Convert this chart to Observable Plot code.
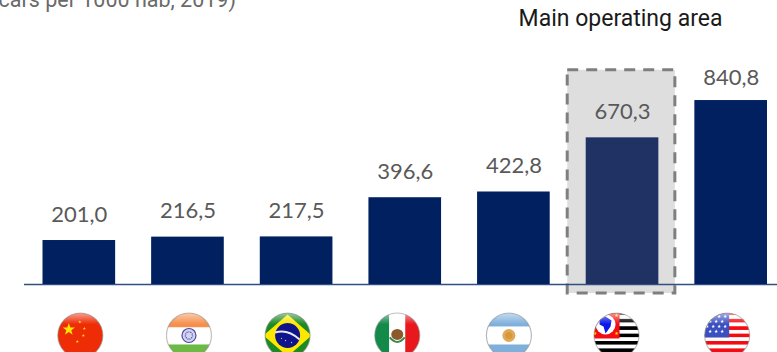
<!DOCTYPE html>
<html><head><meta charset="utf-8">
<script src="https://cdn.jsdelivr.net/npm/d3@7"></script>
<script src="https://cdn.jsdelivr.net/npm/@observablehq/plot@0.6"></script>
<style>html,body{margin:0;padding:0;background:#fff;overflow:hidden}svg{display:block}</style>
</head><body><div id="chart"></div>
<script>
const places = ["China","India","Brazil","Mexico","Argentina","São Paulo","USA"];
const carsPer1000 = [201.0,216.5,217.5,396.6,422.8,670.3,840.8];
const flagKeys = ["cn","in","br","mx","ar","sp","us"];
const subtitle = "cars per 1000 hab, 2019)";
const highlightLabel = "Main operating area";
const highlightPlace = "São Paulo";
const rows = places.map((place,i)=>({place,value:carsPer1000[i],flag:flagKeys[i]}));
const fmt = v => v.toFixed(1).replace(".",",");

const star=(x,y,r,c)=>{let p=[];for(let i=0;i<10;i++){const a=-Math.PI/2+i*Math.PI/5,q=i%2?r*.4:r;p.push((x+q*Math.cos(a)).toFixed(2)+","+(y+q*Math.sin(a)).toFixed(2));}return `<polygon points="${p.join(" ")}" fill="${c}"/>`;};
const stripes=(n,a,b)=>{let s="";for(let i=0;i<n;i++)s+=`<rect x="0" y="${i*48/n}" width="48" height="${48/n+.1}" fill="${i%2?b:a}"/>`;return s;};
const flagArt={
 cn:`<rect width="48" height="48" fill="#ee2c06"/>`+star(12.5,18,6.5,"#ffe600")+star(23.5,10.5,1.7,"#ffd800")+star(28,17,1.7,"#ffd800")+star(27,24,1.7,"#ffd800")+star(21,30,1.7,"#ffd800"),
 in:`<rect width="48" height="16" fill="#f58f4b"/><rect y="16" width="48" height="17" fill="#fff"/><rect y="33" width="48" height="15" fill="#6cb944"/><circle cx="24" cy="24" r="7" fill="#d5d5f0" stroke="#4a4aa8" stroke-width="1.2"/><circle cx="24" cy="24" r="3.6" fill="none" stroke="#4a4aa8" stroke-width="1.4" stroke-dasharray="1 1"/>`,
 br:`<rect width="48" height="48" fill="#1e8a24"/><polygon points="24,3 48,24 24,45 0,24" fill="#ffe800"/><circle cx="24" cy="24" r="12.5" fill="#10148a"/><path d="M11.5 21 Q24 17 36 28" fill="none" stroke="#e8e8f0" stroke-width="2"/>`+star(22,29,1,"#fff")+star(28,31,1,"#fff")+star(18,27,.9,"#fff"),
 mx:`<rect width="16" height="48" fill="#138a4a"/><rect x="16" width="16" height="48" fill="#fff"/><rect x="32" width="16" height="48" fill="#e8181c"/><ellipse cx="24" cy="23" rx="6" ry="5.5" fill="#8a5a2a"/><path d="M16.5 26 Q24 35 31.5 26" fill="none" stroke="#3a8a4a" stroke-width="2"/>`,
 ar:`<rect width="48" height="48" fill="#7fb0dc"/><rect y="15" width="48" height="18" fill="#fff"/><circle cx="24" cy="24" r="6.5" fill="#e0a85a"/><circle cx="24" cy="24" r="3.5" fill="#d89838"/>`,
 sp:`<rect width="48" height="48" fill="#fff"/>`+stripes(13,"#000","#fff")+`<rect width="27" height="27" fill="#f40c12"/><circle cx="13" cy="13" r="10" fill="#fff"/><path d="M7 8 L13 5 L19 9 L18 15 L13 22 L11 15 L7 13Z" fill="#0a18e8"/>`+star(24,4,2,"#ffe000")+star(24,22,2,"#ffe000")+star(2.5,22,2,"#ffe000"),
 us:stripes(13,"#f40c12","#fff")+`<rect width="26" height="26" fill="#3a50c0"/>`+[[4,5],[10,5],[16,5],[22,5],[7,10],[13,10],[19,10],[4,15],[10,15],[16,15],[22,15],[7,20],[13,20],[19,20]].map(([x,y])=>star(x,y,1.9,"#fff")).join("")
};
const flagSrc=k=>"data:image/svg+xml,"+encodeURIComponent(`<svg xmlns="http://www.w3.org/2000/svg" viewBox="0 0 48 48"><defs><clipPath id="c"><ellipse cx="24" cy="24" rx="22.5" ry="22.5"/></clipPath><linearGradient id="g" x1="0" y1="0" x2="0" y2="1"><stop offset="0" stop-color="#fff" stop-opacity=".55"/><stop offset=".25" stop-color="#fff" stop-opacity="0"/></linearGradient></defs><g clip-path="url(#c)">${flagArt[k]}</g><circle cx="24" cy="24" r="22.5" fill="url(#g)"/><circle cx="24" cy="24" r="22.5" fill="none" stroke="#8c8c8c" stroke-opacity=".55" stroke-width="1.2"/></svg>`);

const labelFont={fontFamily:"Lato, sans-serif",fontSize:22,fill:"#595959"};
const headFont={fontFamily:"Roboto, sans-serif"};
const flagShift={cn:1,in:1,br:-9,mx:-8,ar:-5,sp:-6,us:-4};

const chart=Plot.plot({
  width:777,height:352,margin:0,marginLeft:24,
  style:{background:"#fff"},
  x:{type:"band",domain:places,range:[24.5,785],padding:0,round:false,axis:null},
  y:{domain:[-310.8,1298],range:[352,0],axis:null},
  marks:[
    Plot.barY(rows.filter(d=>d.place===highlightPlace),{x:"place",y1:-41,y2:979,insetLeft:-0.5,insetRight:1.5,fill:"#dedede",stroke:"#7f7f7f",strokeWidth:3,strokeDasharray:"11 8"}),
    Plot.ruleY([0],{stroke:"#2f5080",strokeWidth:1.5}),
    Plot.barY(rows,{x:"place",y:"value",insetLeft:18,insetRight:18,fill:d=>d.place===highlightPlace?"#203264":"#002060"}),
    Plot.text(rows.filter(d=>d.flag!=="us"),{x:"place",y:"value",text:d=>fmt(d.value),...labelFont,dy:-26}),
    Plot.text(rows.filter(d=>d.flag==="us"),{x:"place",y:"value",text:d=>fmt(d.value),...labelFont,dy:-23}),
    Plot.text([highlightLabel],{x:()=>highlightPlace,y:()=>1216,text:d=>d,dx:-2,fontSize:23,fill:"#1a1a1a",...headFont}),
    Plot.text([subtitle],{frameAnchor:"top-left",textAnchor:"start",text:d=>d,dx:-26,dy:-9,fontSize:21.5,fill:"#6a6a6a",...headFont}),
    ...flagKeys.map((k,i)=>Plot.image([rows[i]],{x:"place",y:()=>-233,src:d=>flagSrc(d.flag),width:48,height:48,dx:flagShift[k]}))
  ]
});
document.getElementById("chart").append(chart);
</script></body></html>
